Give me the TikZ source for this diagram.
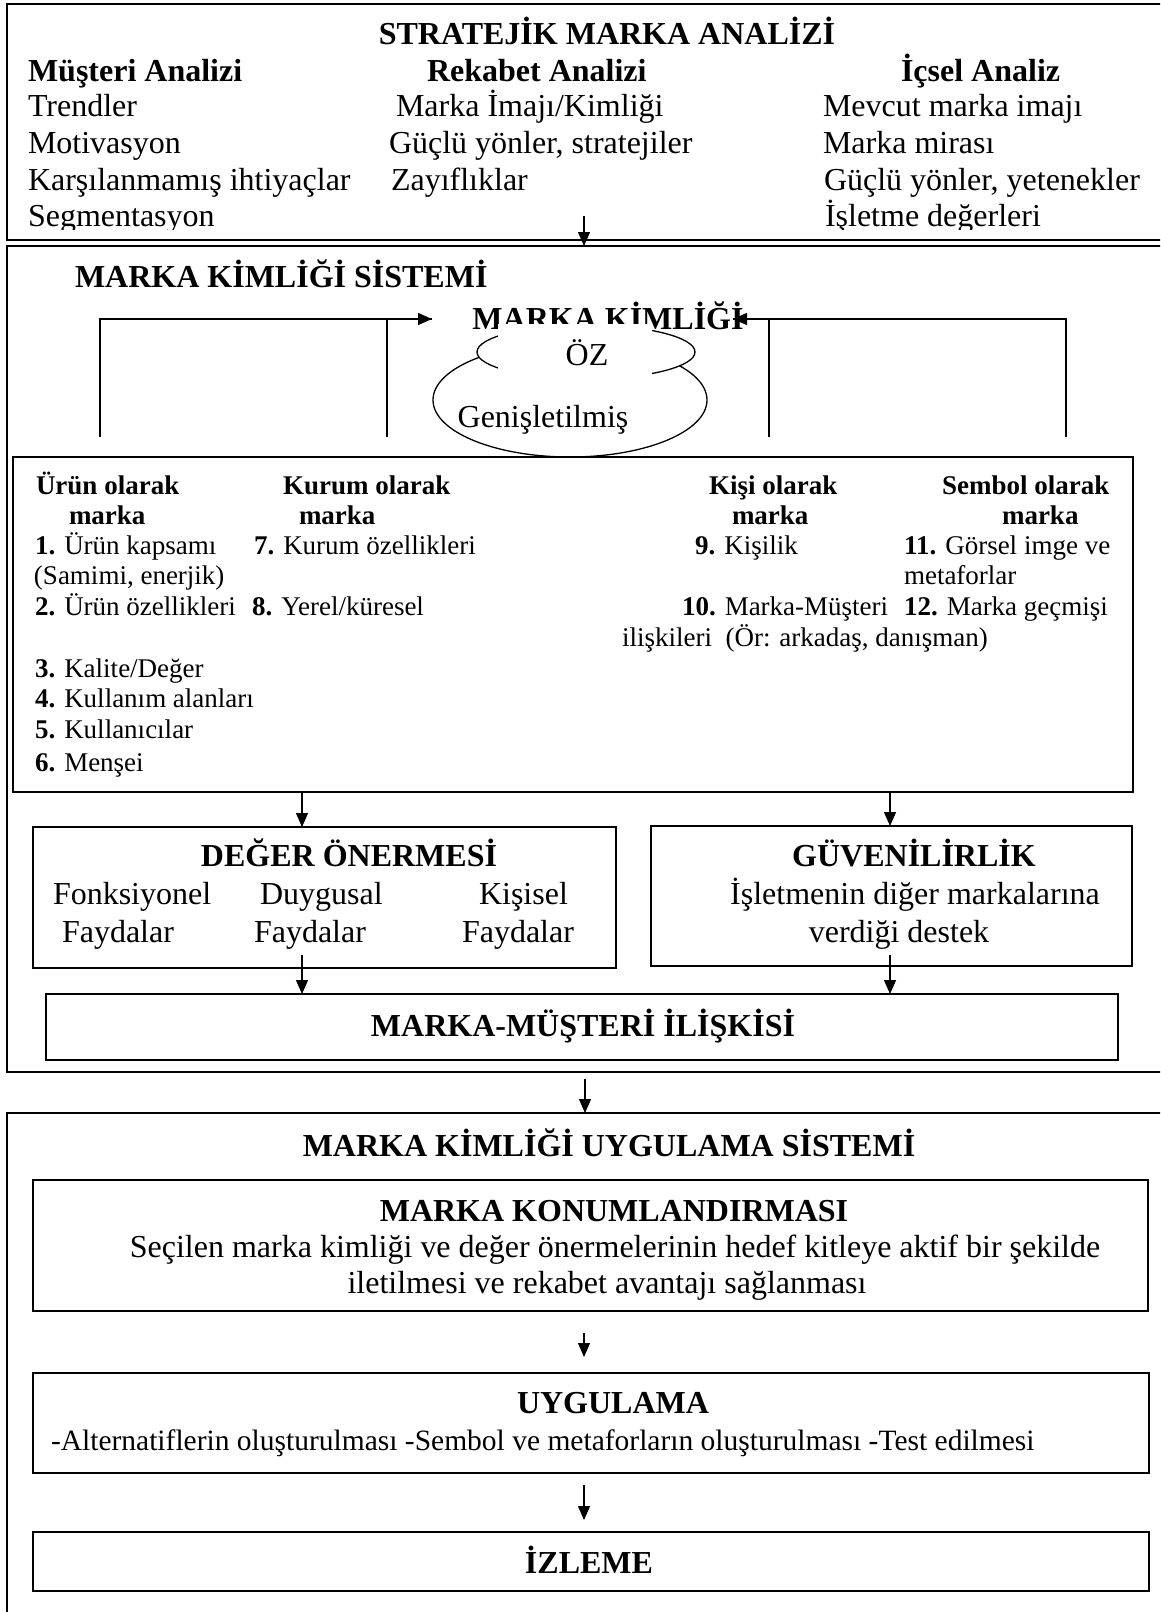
\documentclass[tikz,border=0pt]{standalone}
\usepackage{fontspec}
\setmainfont{Liberation Serif}
\usetikzlibrary{arrows.meta}
\begin{document}
\begin{tikzpicture}[x=1pt,y=-1pt,
  txt/.style={inner sep=0pt, outer sep=0pt, font=\fontsize{32}{38}\selectfont},
  btxt/.style={inner sep=0pt, outer sep=0pt, font=\fontsize{32}{38}\selectfont\bfseries},
  stxt/.style={inner sep=0pt, outer sep=0pt, font=\fontsize{27}{32}\selectfont},
  sbtxt/.style={inner sep=0pt, outer sep=0pt, font=\fontsize{27}{32}\selectfont\bfseries},
  mtxt/.style={inner sep=0pt, outer sep=0pt, font=\fontsize{29.5}{35}\selectfont},
  panel/.style={draw, line width=2pt, inner sep=0pt, outer sep=0pt},
  boxn/.style={draw, line width=1.7pt, inner sep=0pt, outer sep=0pt},
  arr/.style={line width=1.3pt, -{Triangle[length=14pt,width=12pt]}},
  link/.style={line width=1.3pt},
  ring/.style={line width=1.3pt, fill=white},
]
\useasboundingbox (0,0) rectangle (1160,1612);
\clip (0,0) rectangle (1160,1612);

% ---------- Strategic brand analysis ----------
\node[panel, minimum width=1156pt, minimum height=236pt] (analiz) at (585,122) {};
\node[btxt, anchor=base] (t1) at (607,44) {STRATEJİK MARKA ANALİZİ};
\node[btxt, anchor=base west] (h1) at (28,81) {Müşteri Analizi};
\node[btxt, anchor=base west] (h2) at (427,81) {Rekabet Analizi};
\node[btxt, anchor=base west] (h3) at (901,81) {İçsel Analiz};
\begin{scope}
\clip (7,0) rectangle (1163,229);
\node[txt, anchor=base west] (m1) at (28,116) {Trendler};
\node[txt, anchor=base west] (m2) at (28,153) {Motivasyon};
\node[txt, anchor=base west] (m3) at (28,190) {Karşılanmamış ihtiyaçlar};
\node[txt, anchor=base west] (m4) at (28,226) {Segmentasyon};
\node[txt, anchor=base west] (r1) at (396,116) {Marka İmajı/Kimliği};
\node[txt, anchor=base west] (r2) at (389,153) {Güçlü yönler, stratejiler};
\node[txt, anchor=base west] (r3) at (391,190) {Zayıflıklar};
\node[txt, anchor=base west] (i1) at (823,116) {Mevcut marka imajı};
\node[txt, anchor=base west] (i2) at (823,153) {Marka mirası};
\node[txt, anchor=base west] (i3) at (824,190) {Güçlü yönler, yetenekler};
\node[txt, anchor=base west] (i4) at (825,226) {İşletme değerleri};
\end{scope}

% ---------- Brand identity system ----------
\node[panel, minimum width=1156pt, minimum height=826pt] (sistem) at (585,659) {};
\coordinate (a1) at (584,216);
\draw[arr] (a1) -- (a1 |- sistem.north);
\node[btxt, anchor=base west] (t2) at (75,287) {MARKA KİMLİĞİ SİSTEMİ};

% extended and core identity rings
\draw[ring] (570,400) ellipse [x radius=137pt, y radius=57pt];
\draw[ring] (586,352) ellipse [x radius=109pt, y radius=27pt];
\node[btxt, anchor=base] (kimlik) at (608,329) {MARKA KİMLİĞİ};
\fill[white] (498,324) rectangle (652,385);
\node[txt, anchor=base] (oz) at (587,365) {ÖZ};
\node[txt, anchor=base] (genis) at (543,427) {Genişletilmiş};

% feeder lines from the four perspectives
\coordinate (lA) at (100,437);
\coordinate (lB) at (387,437);
\coordinate (lTip) at (432,319);
\coordinate (rA) at (1066,437);
\coordinate (rB) at (769,437);
\coordinate (rTip) at (733,319);
\draw[link] (lA) |- (lTip);
\draw[link] (lB) -- (lB |- lTip);
\draw[arr] (lB |- lTip) -- (lTip);
\draw[link] (rA) |- (rTip);
\draw[link] (rB) -- (rB |- rTip);
\draw[arr] (rB |- rTip) -- (rTip);

% four perspectives
\node[boxn, minimum width=1120pt, minimum height=335pt] (yuzler) at (573,624.5) {};
\node[sbtxt, anchor=base west] (p1a) at (36,494) {Ürün olarak};
\node[sbtxt, anchor=base west] (p1b) at (69,524) {marka};
\node[sbtxt, anchor=base west] (p2a) at (283,494) {Kurum olarak};
\node[sbtxt, anchor=base west] (p2b) at (299,524) {marka};
\node[sbtxt, anchor=base west] (p3a) at (709,494) {Kişi olarak};
\node[sbtxt, anchor=base west] (p3b) at (732,524) {marka};
\node[sbtxt, anchor=base west] (p4a) at (942,494) {Sembol olarak};
\node[sbtxt, anchor=base west] (p4b) at (1002,524) {marka};

\node[stxt, anchor=base west] (e1) at (35,554) {\textbf{1.} Ürün kapsamı};
\node[stxt, anchor=base west] (e1b) at (34,584) {(Samimi, enerjik)};
\node[stxt, anchor=base west] (e2) at (35,615) {\textbf{2.} Ürün özellikleri};
\node[stxt, anchor=base west] (e3) at (35,677) {\textbf{3.} Kalite/Değer};
\node[stxt, anchor=base west] (e4) at (35,707) {\textbf{4.} Kullanım alanları};
\node[stxt, anchor=base west] (e5) at (35,738) {\textbf{5.} Kullanıcılar};
\node[stxt, anchor=base west] (e6) at (35,771) {\textbf{6.} Menşei};
\node[stxt, anchor=base west] (e7) at (254,554) {\textbf{7.} Kurum özellikleri};
\node[stxt, anchor=base west] (e8) at (252,615) {\textbf{8.} Yerel/küresel};
\node[stxt, anchor=base west] (e9) at (695,554) {\textbf{9.} Kişilik};
\node[stxt, anchor=base west] (e10) at (682,615) {\textbf{10.} Marka-Müşteri};
\node[stxt, anchor=base west] (e10b) at (622,646) {ilişkileri\ \ (Ör: arkadaş, danışman)};
\node[stxt, anchor=base west] (e11) at (904,554) {\textbf{11.} Görsel imge ve};
\node[stxt, anchor=base west] (e11b) at (904,584) {metaforlar};
\node[stxt, anchor=base west] (e12) at (904,615) {\textbf{12.} Marka geçmişi};

% value proposition and credibility
\node[boxn, minimum width=583pt, minimum height=141pt] (deger) at (324.5,897.5) {};
\node[boxn, minimum width=481pt, minimum height=140pt] (guven) at (891.5,896) {};
\coordinate (c1) at (302,0);
\coordinate (c2) at (890,0);
\draw[arr] (c1 |- yuzler.south) -- (c1 |- deger.north);
\draw[arr] (c2 |- yuzler.south) -- (c2 |- guven.north);

\node[btxt, anchor=base] (dt) at (349,866) {DEĞER ÖNERMESİ};
\node[txt, anchor=base west] (d1) at (53,904) {Fonksiyonel};
\node[txt, anchor=base west] (d1b) at (62,942) {Faydalar};
\node[txt, anchor=base west] (d2) at (260,904) {Duygusal};
\node[txt, anchor=base west] (d2b) at (254,942) {Faydalar};
\node[txt, anchor=base west] (d3) at (479,904) {Kişisel};
\node[txt, anchor=base west] (d3b) at (462,942) {Faydalar};

\node[btxt, anchor=base] (gt) at (914,866) {GÜVENİLİRLİK};
\node[txt, anchor=base] (g1) at (915,904) {İşletmenin diğer markalarına};
\node[txt, anchor=base] (g2) at (899,942) {verdiği destek};

% brand-customer relationship
\node[boxn, minimum width=1072pt, minimum height=66pt] (iliski) at (582,1027) {};
\node[btxt, anchor=base] (it) at (583,1036) {MARKA-MÜŞTERİ İLİŞKİSİ};
\coordinate (c3) at (302,955);
\coordinate (c4) at (890,955);
\draw[arr] (c3) -- (c3 |- iliski.north);
\draw[arr] (c4) -- (c4 |- iliski.north);

% ---------- Implementation system ----------
\node[panel, minimum width=1156pt, minimum height=500pt] (uygsis) at (585,1363) {};
\coordinate (a2) at (585,1079);
\draw[arr] (a2) -- (a2 |- uygsis.north);
\node[btxt, anchor=base] (t3) at (609,1156) {MARKA KİMLİĞİ UYGULAMA SİSTEMİ};

\node[boxn, minimum width=1115pt, minimum height=131pt] (konum) at (590.5,1245.5) {};
\node[btxt, anchor=base] (kt) at (614,1221) {MARKA KONUMLANDIRMASI};
\node[txt, anchor=base] (k1) at (615,1257) {Seçilen marka kimliği ve değer önermelerinin hedef kitleye aktif bir şekilde};
\node[txt, anchor=base] (k2) at (607,1293) {iletilmesi ve rekabet avantajı sağlanması};

\node[boxn, minimum width=1116pt, minimum height=100pt] (uyg) at (591,1423) {};
\node[btxt, anchor=base] (ut) at (613,1413) {UYGULAMA};
\node[mtxt, anchor=base west] (u1) at (51,1450) {-Alternatiflerin oluşturulması -Sembol ve metaforların oluşturulması -Test edilmesi};

\node[boxn, minimum width=1116pt, minimum height=59pt] (izle) at (591,1561.5) {};
\node[btxt, anchor=base] (zt) at (589,1573) {İZLEME};

\coordinate (a3) at (584,1333);
\coordinate (a3e) at (584,1357);
\draw[arr] (a3) -- (a3e);
\coordinate (a4) at (584,1485);
\coordinate (a4e) at (584,1520);
\draw[arr] (a4) -- (a4e);
\end{tikzpicture}
\end{document}
